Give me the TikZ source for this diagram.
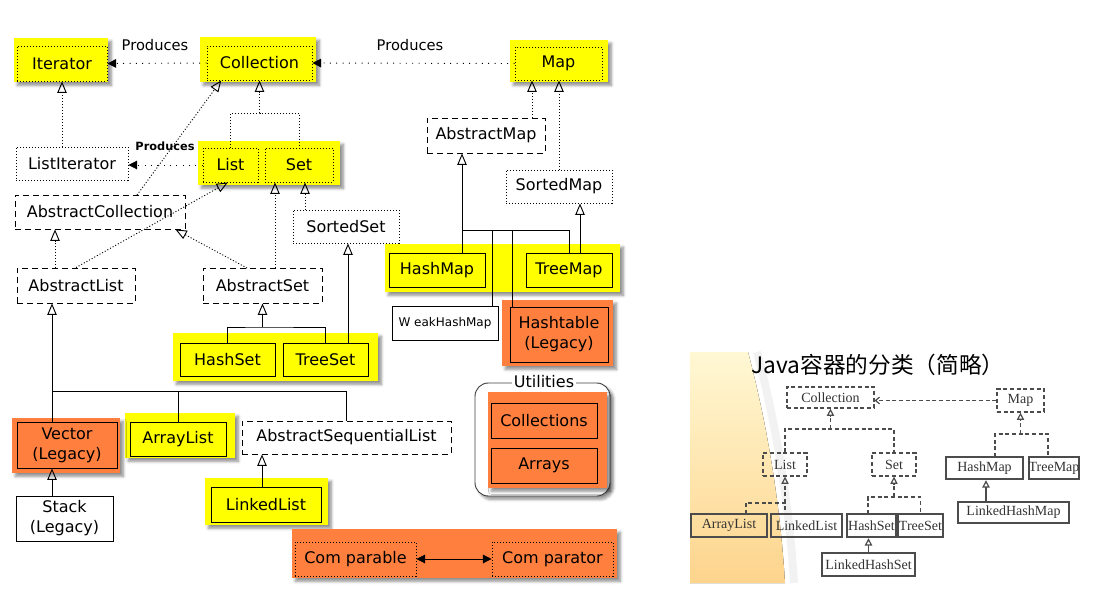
\documentclass[tikz,border=0pt]{standalone}
\usepackage{fontspec}
\setmainfont{DejaVu Sans}
\newfontfamily\rmserif{Liberation Serif}
\newfontfamily\cjkfont{Noto Sans CJK SC}
\usetikzlibrary{arrows.meta,fit,shadows.blur}
\definecolor{ylw}{RGB}{255,255,0}
\definecolor{org}{RGB}{255,127,63}
\definecolor{cream}{RGB}{255,248,212}
\definecolor{peach}{RGB}{253,212,140}
\tikzset{
  shade box/.style={inner sep=0pt, blur shadow={shadow blur steps=6, shadow xshift=2.5pt, shadow yshift=-2.5pt, shadow opacity=45}},
  ylwbg/.style={shade box, fill=ylw},
  orgbg/.style={shade box, fill=org},
  utilbox/.style={shade box, fill=white, draw=black!75, rounded corners=10pt},
  lbl/.style={align=center, inner sep=0pt, font=\fontsize{12}{15}\selectfont},
  txt/.style={label={[lbl]center:#1}},
  box/.style={draw, inner sep=0pt},
  iface/.style={box, dash pattern=on 0.75pt off 1.5pt},
  abstr/.style={box, dash pattern=on 4.5pt off 3pt},
  conc/.style={box},
  dotline/.style={dash pattern=on 0.75pt off 1.5pt},
  impl/.style={dotline, -{Triangle[open, length=8.5pt, width=7pt]}},
  extend/.style={-{Triangle[open, length=8.5pt, width=7pt]}},
  produce/.style={dash pattern=on 0.75pt off 4pt, -{Triangle[length=6.5pt, width=6.5pt]}},
  both/.style={{Triangle[length=6.5pt, width=6.5pt]}-{Triangle[length=6.5pt, width=6.5pt]}},
  rlbl/.style={inner sep=0pt, text=black!80, font=\rmserif\fontsize{10.5}{12}\selectfont},
  rtxt/.style={label={[rlbl]center:#1}},
  rbox/.style={draw=black!70, inner sep=0pt},
  rabstr/.style={rbox, dash pattern=on 3pt off 2pt, line width=0.9pt},
  rthin/.style={rbox, line width=0.9pt},
  rthick/.style={rbox, line width=1.8pt},
  rdash/.style={draw=black!70, line width=0.9pt, dash pattern=on 3pt off 2pt},
  rext/.style={draw=black!70, line width=0.9pt, -{Triangle[open, length=5.5pt, width=5.5pt]}},
}
\begin{document}
\begin{tikzpicture}[x=0.75pt, y=-0.75pt, line width=0.7pt]
  \useasboundingbox (0,0) rectangle (1108,593);
  % coloured groups
  \node[ylwbg, fit={(14,38) (108,82)}] (bgIterator) {};
  \node[ylwbg, fit={(200,37) (316,82)}] (bgCollection) {};
  \node[ylwbg, fit={(510,40) (608,82)}] (bgMap) {};
  \node[ylwbg, fit={(198,141) (340,185)}] (bgListSet) {};
  \node[ylwbg, fit={(385,244) (620,292)}] (bgMaps) {};
  \node[ylwbg, fit={(173,333) (378,381)}] (bgSets) {};
  \node[ylwbg, fit={(125,413) (235,458)}] (bgArrayList) {};
  \node[ylwbg, fit={(205,478) (328,525)}] (bgLinkedList) {};
  \node[orgbg, fit={(12,418) (120,473)}] (bgVector) {};
  \node[orgbg, fit={(502,300) (613,366)}] (bgHashtable) {};
  \node[orgbg, fit={(292,529) (617,578)}] (bgCompare) {};
  \node[utilbox, fit={(475,383) (610,496)}] (Utilities) {};
  \node[orgbg, fit={(488,392) (607,488)}] (bgUtilities) {};
  \node[lbl, fill=white, inner sep=1.5pt] (utilLabel) at (544,382) {Utilities};
  % classes
  \node[iface, txt=Iterator, fit={(17,46) (107,81)}] (Iterator) {};
  \node[iface, txt=Collection, fit={(207,46) (312,80)}] (Collection) {};
  \node[iface, txt=Map, fit={(515,47) (602,80)}] (Map) {};
  \node[iface, txt=ListIterator, fit={(16,147) (128,180)}] (ListIterator) {};
  \node[iface, txt=List, fit={(203,148) (258,182)}] (List) {};
  \node[iface, txt=Set, fit={(265,148) (333,182)}] (Set) {};
  \node[iface, txt=SortedSet, fit={(293,210) (399,243)}] (SortedSet) {};
  \node[iface, txt=SortedMap, fit={(506,170) (612,203)}] (SortedMap) {};
  \node[abstr, txt=AbstractCollection, fit={(15,195) (185,229)}] (AbstractCollection) {};
  \node[abstr, txt=AbstractList, fit={(17,268) (135,303)}] (AbstractList) {};
  \node[abstr, txt=AbstractSet, fit={(203,268) (322,303)}] (AbstractSet) {};
  \node[abstr, txt=AbstractMap, fit={(427,118) (545,153)}] (AbstractMap) {};
  \node[abstr, txt=AbstractSequentialList, fit={(242,421) (451,454)}] (AbstractSequentialList) {};
  \node[conc, txt=HashSet, fit={(180,343) (275,376)}] (HashSet) {};
  \node[conc, txt=TreeSet, fit={(283,343) (368,376)}] (TreeSet) {};
  \node[conc, txt=HashMap, fit={(389,253) (485,287)}] (HashMap) {};
  \node[conc, txt=TreeMap, fit={(526,253) (612,287)}] (TreeMap) {};
  \node[conc, fill=white, label={[lbl, font=\fontsize{9}{11}\selectfont]center:W eakHashMap}, fit={(392,306) (498,340)}] (WeakHashMap) {};
  \node[conc, txt={Hashtable\\(Legacy)}, fit={(510,307) (608,362)}] (Hashtable) {};
  \node[conc, txt={Vector\\(Legacy)}, fit={(17,422) (117,468)}] (Vector) {};
  \node[conc, txt={Stack\\(Legacy)}, fit={(16,496) (113,541)}] (Stack) {};
  \node[conc, txt=ArrayList, fit={(130,422) (226,456)}] (ArrayList) {};
  \node[conc, txt=LinkedList, fit={(211,487) (321,522)}] (LinkedList) {};
  \node[conc, txt=Collections, fit={(491,403) (597,438)}] (Collections) {};
  \node[conc, txt=Arrays, fit={(491,448) (597,483)}] (Arrays) {};
  \node[iface, txt=Com parable, fit={(295,542) (416,576)}] (Comparable) {};
  \node[iface, txt=Com parator, fit={(492,542) (613,576)}] (Comparator) {};
  \node[font=\fontsize{11}{13}\selectfont] (prodIterator) at (155,45) {Produces};
  \node[font=\fontsize{11}{13}\selectfont] (prodCollection) at (410,45) {Produces};
  \node[font=\bfseries\fontsize{8.5}{10}\selectfont] (prodListIterator) at (165,146) {Produces};
  \begin{scope}
    \draw[produce] (Collection.west) -- (Iterator.east);
    \draw[produce] (Map.west) -- (Collection.east);
    \draw[produce] (List.west) -- (List.west -| ListIterator.east);
    \draw[impl] (Iterator.south |- ListIterator.north) -- (Iterator.south);
    \coordinate (cj) at (259.5,113);
    \draw[impl] (cj) -- (Collection.south);
    \draw[dotline] (List.north) |- (cj) -| (Set.north);
    \coordinate (acup) at (137,195);
    \draw[impl] (acup) -- ([xshift=11pt]Collection.south west);
    \draw[impl] (AbstractList.north) -- ([xshift=-2pt]List.south);
    \coordinate (alup) at (55,268);
    \draw[impl] (alup) -- (alup |- AbstractCollection.south);
    \coordinate (asleft) at (247,268);
    \draw[impl] (asleft) -- ([xshift=-7.5pt]AbstractCollection.south east);
    \coordinate (asup) at (275,268);
    \draw[impl] (asup) -- (asup |- Set.south);
    \coordinate (ssup) at (305,210);
    \draw[impl] (ssup) -- (ssup |- Set.south);
    \coordinate (sj) at (262.5,327);
    \draw[extend] (sj) -- (AbstractSet.south);
    \draw (HashSet.north) |- (sj) -| (TreeSet.north);
    \coordinate (tsup) at (348,343);
    \draw[extend] (tsup) -- (tsup |- SortedSet.south);
    \coordinate (amup) at (532,118);
    \draw[impl] (amup) -- (amup |- Map.south);
    \draw[impl] (SortedMap.north) -- (SortedMap.north |- Map.south);
    \coordinate (mj) at (462,230);
    \coordinate (hmup) at (462,253);
    \coordinate (tmup) at (569,253);
    \coordinate (whup) at (492,306);
    \coordinate (htup) at (512,307);
    \draw[extend] (hmup) -- (hmup |- AbstractMap.south);
    \draw (mj) -| (tmup);
    \draw (whup) |- (mj);
    \draw (htup) |- (mj);
    \coordinate (tmup2) at (580,253);
    \draw[extend] (tmup2) -- (tmup2 |- SortedMap.south);
    \coordinate (lj) at (52,391);
    \coordinate (vecup) at (52,422);
    \draw[extend] (vecup) -- (vecup |- AbstractList.south);
    \draw (ArrayList.north) |- (lj);
    \draw (AbstractSequentialList.north) |- (lj);
    \coordinate (stup) at (52,496);
    \draw[extend] (stup) -- (stup |- Vector.south);
    \coordinate (llup) at (262,487);
    \draw[extend] (llup) -- (llup |- AbstractSequentialList.south);
    \draw[both] (Comparable.east) -- (Comparator.west);
  \end{scope}
  % second picture
  \draw[gray!10, line width=6pt] (757,352) .. controls (775,420) and (789,500) .. (794,583);
  \fill[top color=cream, bottom color=peach] (690,352) -- (748,352) .. controls (766,420) and (780,500) .. (785,583) -- (690,583) -- cycle;
  \node[font=\cjkfont\fontsize{17}{20}\selectfont, text=black] (rTitle) at (878,365) {Java容器的分类（简略）};
  \node[rabstr, rtxt=Collection, fit={(787,387) (874,408)}] (rCollection) {};
  \node[rabstr, rtxt=Map, fit={(997,389) (1044,412)}] (rMap) {};
  \node[rabstr, rtxt=List, fit={(763,453) (807,476)}] (rList) {};
  \node[rabstr, rtxt=Set, fit={(872,453) (916,476)}] (rSet) {};
  \node[rthick, rtxt=ArrayList, fit={(691,514) (767,537)}] (rArrayList) {};
  \node[rthick, rtxt=LinkedList, fit={(771,514) (842,537)}] (rLinkedList) {};
  \node[rthick, rtxt=HashSet, fit={(847,514) (896,537)}] (rHashSet) {};
  \node[rthin, rtxt=TreeSet, fit={(898,514) (943,537)}] (rTreeSet) {};
  \node[rthin, rtxt=LinkedHashSet, fit={(822,553) (915,576)}] (rLinkedHashSet) {};
  \node[rthick, rtxt=HashMap, fit={(946,457) (1023,479)}] (rHashMap) {};
  \node[rthin, rtxt=TreeMap, fit={(1029,457) (1079,479)}] (rTreeMap) {};
  \node[rthin, rtxt=LinkedHashMap, fit={(958,502) (1069,523)}] (rLinkedHashMap) {};
  \begin{scope}
    \draw[rdash, -{Straight Barb[length=3pt, width=5pt]}] (rMap.west) -- (rMap.west -| rCollection.east);
    \coordinate (rcj) at (830.5,429);
    \draw[rdash, -{Triangle[open, length=5.5pt, width=5.5pt]}] (rcj) -- (rCollection.south);
    \draw[rdash] (rList.north) |- (rcj) -| (rSet.north);
    \coordinate (rlj) at (785,503);
    \coordinate (rarup) at (746,514);
    \draw[rdash, -{Triangle[open, length=5.5pt, width=5.5pt]}] (rlj) -- (rList.south);
    \draw[rdash] (rarup) |- (rlj) -- (rlj |- rLinkedList.north);
    \coordinate (rsj) at (894,497);
    \coordinate (rhsup) at (868,514);
    \draw[rdash, -{Triangle[open, length=5.5pt, width=5.5pt]}] (rsj) -- (rSet.south);
    \draw[rdash] (rhsup) |- (rsj) -| (rTreeSet.north);
    \draw[rext] (rLinkedHashSet.north) -- (rLinkedHashSet.north |- rHashSet.south);
    \coordinate (rmj) at (1020.5,434);
    \coordinate (rhmup) at (995,457);
    \coordinate (rtmup) at (1048,457);
    \draw[rdash, -{Triangle[open, length=5.5pt, width=5.5pt]}] (rmj) -- (rMap.south);
    \draw[rdash] (rhmup) |- (rmj) -| (rtmup);
    \coordinate (rlhmup) at (986,502);
    \draw[rext] (rlhmup) -- (rlhmup |- rHashMap.south);
  \end{scope}
\end{tikzpicture}
\end{document}
